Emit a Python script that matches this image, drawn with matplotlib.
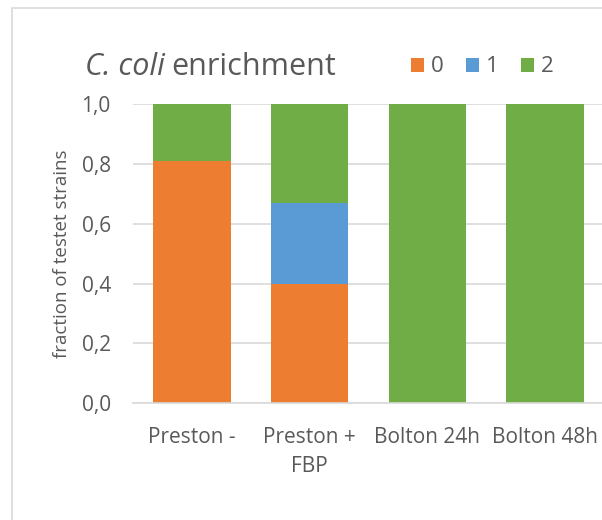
import matplotlib
matplotlib.use("Agg")
import matplotlib.pyplot as plt
from matplotlib.patches import Rectangle
import numpy as np

# data
categories = ["Preston -", "Preston +\nFBP", "Bolton 24h", "Bolton 48h"]
score_0 = [0.81, 0.40, 0.0, 0.0]
score_1 = [0.0, 0.27, 0.0, 0.0]
score_2 = [0.19, 0.33, 1.0, 1.0]
series_names = ["0", "1", "2"]
colors = ["#ED7D31", "#5B9BD5", "#70AD47"]
yticks = [0.0, 0.2, 0.4, 0.6, 0.8, 1.0]

plt.rcParams['font.family'] = ['Open Sans', 'DejaVu Sans']
text_col = "#595959"
grid_col = "#D9D9D9"

fig = plt.figure(figsize=(6.02, 5.2), dpi=100)
ax = fig.add_axes([133/602, 1 - 403.3/520, 471/602, (403.3 - 104)/520])

x = np.arange(len(categories))
bottom = np.zeros(len(categories))
handles = []
for vals, name, c in zip([score_0, score_1, score_2], series_names, colors):
    b = ax.bar(x, vals, width=0.66, bottom=bottom, color=c, label=name, zorder=3)
    handles.append(b)
    bottom += np.array(vals)

ax.set_xlim(-0.5, len(categories) - 0.5)
ax.set_ylim(0, 1.0)
ax.set_yticks(yticks)
ax.set_yticklabels([f"{t:.1f}".replace(".", ",") for t in yticks])
ax.set_xticks(x)
ax.set_xticklabels(categories, linespacing=1.5)
ax.tick_params(axis="y", length=0, pad=16, labelsize=15, colors=text_col)
ax.tick_params(axis="x", length=0, pad=17, labelsize=15, colors=text_col)
ax.yaxis.grid(True, color=grid_col, linewidth=1.2, zorder=0)
for s in ["top", "right", "left"]:
    ax.spines[s].set_visible(False)
ax.spines["bottom"].set_color(grid_col)
ax.spines["bottom"].set_linewidth(1.2)
ax.spines["bottom"].set_zorder(4)

fig.text(62/602, 1 - 253.5/520, "fraction of testet strains", rotation=90,
         ha="center", va="center", fontsize=13.5, color=text_col)

title = fig.text(85/602, 1 - 75/520, "C. coli", fontsize=22, color=text_col,
                 va="baseline", ha="left", style="italic")
fig.canvas.draw()
bb = title.get_window_extent()
fig.text(bb.x1 / fig.bbox.width + 6/602, 1 - 75/520, "enrichment", fontsize=22,
         color=text_col, va="baseline", ha="left")

fig.legend(handles=handles, labels=series_names, loc="center left",
           bbox_to_anchor=(411/602, 1 - 67/520), ncol=3, frameon=False,
           handlelength=0.6, handleheight=0.6, handletextpad=0.3,
           columnspacing=1.0, borderpad=0, borderaxespad=0,
           fontsize=16, labelcolor=text_col)

fig.add_artist(Rectangle((12/602, -0.1), 1.0, 1 - 8/520 + 0.1,
                         transform=fig.transFigure, fill=False,
                         edgecolor=grid_col, linewidth=1.2))

fig.savefig("out.png", dpi=100)
